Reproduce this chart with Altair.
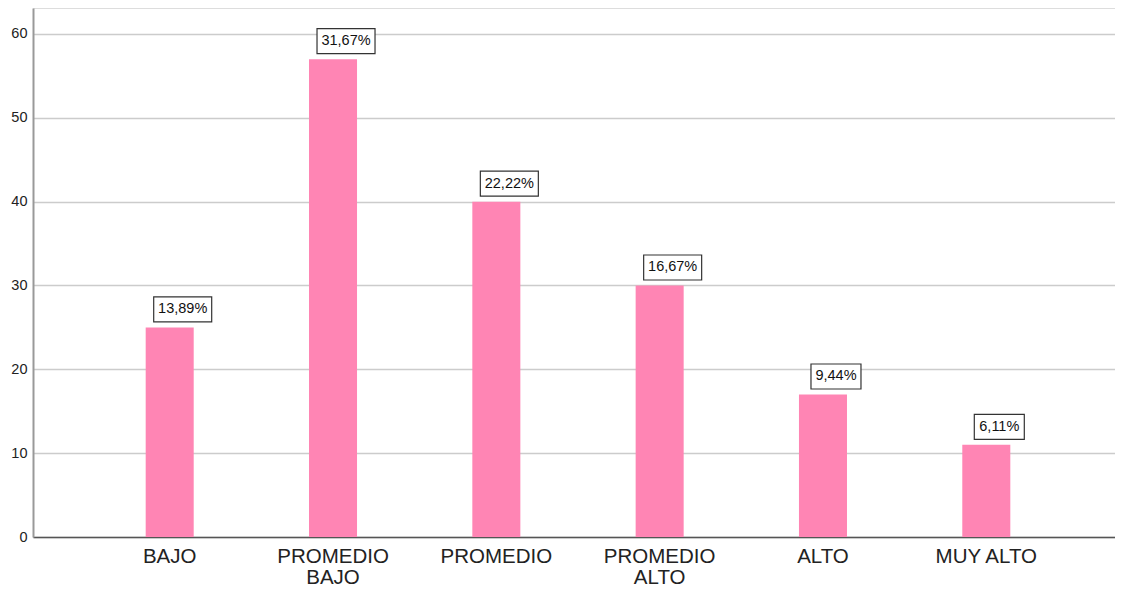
import altair as alt
import pandas as pd

categories = ["BAJO", "PROMEDIO BAJO", "PROMEDIO", "PROMEDIO ALTO", "ALTO", "MUY ALTO"]
counts = [25, 57, 40, 30, 17, 11]
pct_labels = ["13,89%", "31,67%", "22,22%", "16,67%", "9,44%", "6,11%"]
y_ticks = [0, 10, 20, 30, 40, 50, 60]

df = pd.DataFrame({"cat": categories, "n": counts, "pct": pct_labels})
df["len"] = df["pct"].str.len().astype(str)

FONT = "Liberation Sans"
box6 = "M-1.6,-3.05L4.2,-3.05L4.2,-0.55L-1.6,-0.55Z"
box5 = "M-1.2,-3.05L3.8,-3.05L3.8,-0.55L-1.2,-0.55Z"

x_enc = alt.X(
    "cat:N",
    sort=categories,
    title=None,
    scale=alt.Scale(paddingInner=0.706, paddingOuter=0.69, range=[0, 1090]),
    axis=alt.Axis(
        labelAngle=0,
        labelFont=FONT,
        labelFontSize=20.5,
        labelColor="#222222",
        labelLineHeight=21,
        labelPadding=9,
        labelBaseline="top",
        labelExpr="indexof(datum.label, 'PROMEDIO ') == 0 ? split(datum.label, ' ') : datum.label",
        ticks=False,
        domainColor="#555555",
        domainWidth=1.5,
        grid=False,
    ),
)
y_enc = alt.Y(
    "n:Q",
    title=None,
    scale=alt.Scale(domain=[0, 63.1], nice=False, zero=True),
    axis=alt.Axis(
        values=y_ticks,
        labelFont=FONT,
        labelFontSize=14.5,
        labelColor="#222222",
        labelPadding=6,
        ticks=False,
        domainColor="#999999",
        domainWidth=2,
        grid=True,
        gridColor="#cccccc",
        gridWidth=1.6,
    ),
)

base = alt.Chart(df)

bars = base.mark_bar(color="#FF85B4").encode(x=x_enc, y=y_enc)

boxes = base.mark_point(
    fill="white", fillOpacity=1, stroke="#333333", strokeWidth=1.2, strokeOpacity=1, opacity=1, size=400, filled=False
).encode(
    x=alt.X("cat:N", sort=categories),
    y=alt.Y("n:Q"),
    shape=alt.Shape("len:N", scale=alt.Scale(domain=["5", "6"], range=[box5, box6]), legend=None),
)

texts = base.mark_text(
    font=FONT, fontSize=14.5, color="#111111", dx=13, dy=-18, baseline="middle", align="center"
).encode(
    x=alt.X("cat:N", sort=categories),
    y=alt.Y("n:Q"),
    text="pct:N",
)

chart = (
    alt.layer(bars, boxes, texts)
    .properties(
        width=1082,
        height=529,
        autosize=alt.AutoSizeParams(type="none"),
        padding={"left": 25, "top": 0, "right": 0, "bottom": 51},
    )
    .configure_view(stroke=None)
    .configure(background="white")
)

chart.save("out.html", embed_options={"renderer": "svg", "actions": False})
